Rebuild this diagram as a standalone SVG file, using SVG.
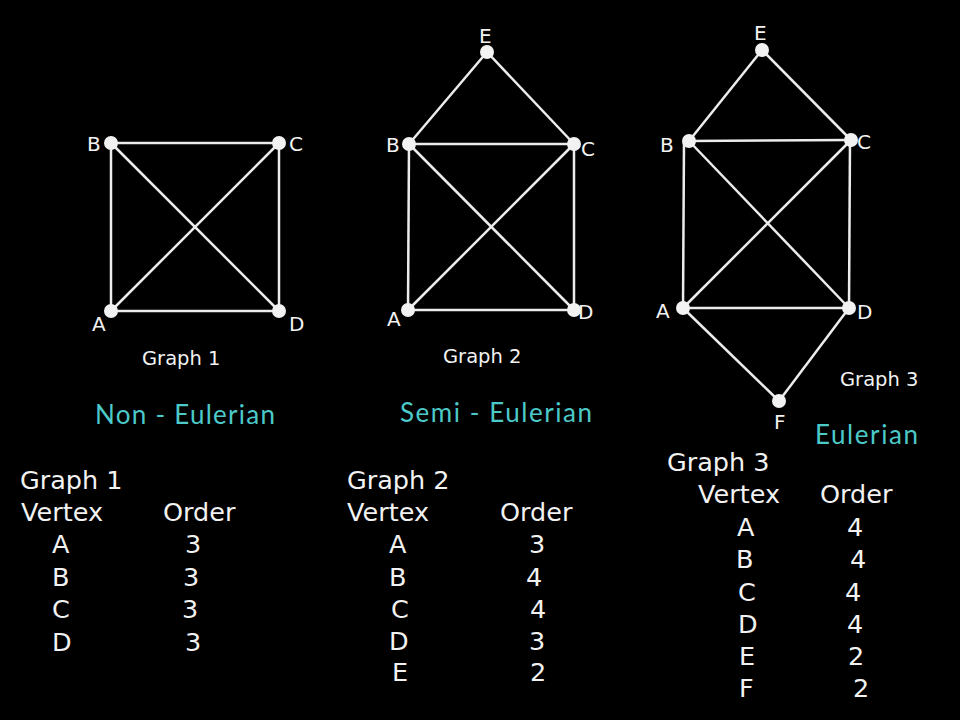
<svg xmlns="http://www.w3.org/2000/svg" width="960" height="720" viewBox="0 0 960 720">
<style>
.e{stroke:#ececec;stroke-width:2.5;fill:none}
.v{fill:#f2f2f2}
.t{font-family:"DejaVu Sans",sans-serif;fill:#f2f2f2}
.n{font-size:20px}
.g{font-size:19.5px}
.tb{font-size:25.5px}
.c{font-family:Lato,"Open Sans",sans-serif;fill:#4cc9c9;font-size:26px}
</style>
<rect width="960" height="720" fill="#000"/>
<g id="connectors">
<line class="e" x1="111" y1="143" x2="279" y2="143"/>
<line class="e" x1="111" y1="143" x2="111" y2="311"/>
<line class="e" x1="279" y1="143" x2="279" y2="311"/>
<line class="e" x1="111" y1="311" x2="279" y2="311"/>
<line class="e" x1="111" y1="143" x2="279" y2="311"/>
<line class="e" x1="279" y1="143" x2="111" y2="311"/>
<line class="e" x1="487" y1="52" x2="409" y2="144"/>
<line class="e" x1="487" y1="52" x2="574" y2="144"/>
<line class="e" x1="409" y1="144" x2="574" y2="144"/>
<line class="e" x1="409" y1="144" x2="408" y2="310"/>
<line class="e" x1="574" y1="144" x2="574" y2="310"/>
<line class="e" x1="408" y1="310" x2="574" y2="310"/>
<line class="e" x1="409" y1="144" x2="574" y2="310"/>
<line class="e" x1="574" y1="144" x2="408" y2="310"/>
<line class="e" x1="762" y1="50" x2="689" y2="141"/>
<line class="e" x1="762" y1="50" x2="851" y2="140"/>
<line class="e" x1="689" y1="141" x2="851" y2="140"/>
<line class="e" x1="684" y1="141" x2="683" y2="308"/>
<line class="e" x1="850" y1="140" x2="849" y2="308"/>
<line class="e" x1="683" y1="308" x2="849" y2="308"/>
<line class="e" x1="689" y1="141" x2="849" y2="308"/>
<line class="e" x1="851" y1="140" x2="683" y2="308"/>
<line class="e" x1="683" y1="308" x2="779" y2="401"/>
<line class="e" x1="849" y1="308" x2="779" y2="401"/>
</g>
<g id="g1-A"><circle class="v" cx="111" cy="311" r="7"/><text class="t n" x="92" y="331">A</text></g>
<g id="g1-B"><circle class="v" cx="111" cy="143" r="7"/><text class="t n" x="87" y="151">B</text></g>
<g id="g1-C"><circle class="v" cx="279" cy="143" r="7"/><text class="t n" x="289" y="151">C</text></g>
<g id="g1-D"><circle class="v" cx="279" cy="311" r="7"/><text class="t n" x="289" y="331">D</text></g>
<g id="g2-A"><circle class="v" cx="408" cy="310" r="7"/><text class="t n" x="387" y="326">A</text></g>
<g id="g2-B"><circle class="v" cx="409" cy="144" r="7"/><text class="t n" x="386" y="152">B</text></g>
<g id="g2-C"><circle class="v" cx="574" cy="144" r="7"/><text class="t n" x="581" y="156">C</text></g>
<g id="g2-D"><circle class="v" cx="574" cy="310" r="7"/><text class="t n" x="578" y="319">D</text></g>
<g id="g2-E"><circle class="v" cx="487" cy="52" r="7"/><text class="t n" x="479" y="43">E</text></g>
<g id="g3-A"><circle class="v" cx="683" cy="308" r="7"/><text class="t n" x="656" y="318">A</text></g>
<g id="g3-B"><circle class="v" cx="689" cy="141" r="7"/><text class="t n" x="660" y="152">B</text></g>
<g id="g3-C"><circle class="v" cx="851" cy="140" r="7"/><text class="t n" x="857" y="149">C</text></g>
<g id="g3-D"><circle class="v" cx="849" cy="308" r="7"/><text class="t n" x="857" y="319">D</text></g>
<g id="g3-E"><circle class="v" cx="762" cy="50" r="7"/><text class="t n" x="754" y="40">E</text></g>
<g id="g3-F"><circle class="v" cx="779" cy="401" r="7"/><text class="t n" x="774" y="429">F</text></g>
<g id="captions">
<text class="t g" x="142" y="365">Graph 1</text>
<text class="t g" x="443" y="363">Graph 2</text>
<text class="t g" x="840" y="386">Graph 3</text>
<text class="c" x="95" y="424" textLength="180">Non - Eulerian</text>
<text class="c" x="400" y="422" textLength="192">Semi - Eulerian</text>
<text class="c" x="815" y="444" textLength="103">Eulerian</text>
</g>
<g id="table1" class="t tb">
<text x="20" y="489">Graph 1</text>
<text x="21" y="521">Vertex</text>
<text x="163" y="521">Order</text>
<text x="52" y="553">A</text><text x="185" y="553">3</text>
<text x="52" y="586">B</text><text x="183" y="586">3</text>
<text x="52" y="618">C</text><text x="182" y="618">3</text>
<text x="52" y="651">D</text><text x="185" y="651">3</text>
</g>
<g id="table2" class="t tb">
<text x="347" y="489">Graph 2</text>
<text x="347" y="521">Vertex</text>
<text x="500" y="521">Order</text>
<text x="389" y="553">A</text><text x="529" y="553">3</text>
<text x="389" y="586">B</text><text x="526" y="586">4</text>
<text x="391" y="618">C</text><text x="530" y="618">4</text>
<text x="389" y="650">D</text><text x="529" y="650">3</text>
<text x="392" y="681">E</text><text x="530" y="681">2</text>
</g>
<g id="table3" class="t tb">
<text x="667" y="471">Graph 3</text>
<text x="698" y="503">Vertex</text>
<text x="820" y="503">Order</text>
<text x="737" y="536">A</text><text x="847" y="536">4</text>
<text x="736" y="568">B</text><text x="850" y="568">4</text>
<text x="738" y="601">C</text><text x="845" y="601">4</text>
<text x="738" y="633">D</text><text x="847" y="633">4</text>
<text x="739" y="665">E</text><text x="848" y="665">2</text>
<text x="739" y="697">F</text><text x="853" y="697">2</text>
</g>
</svg>
